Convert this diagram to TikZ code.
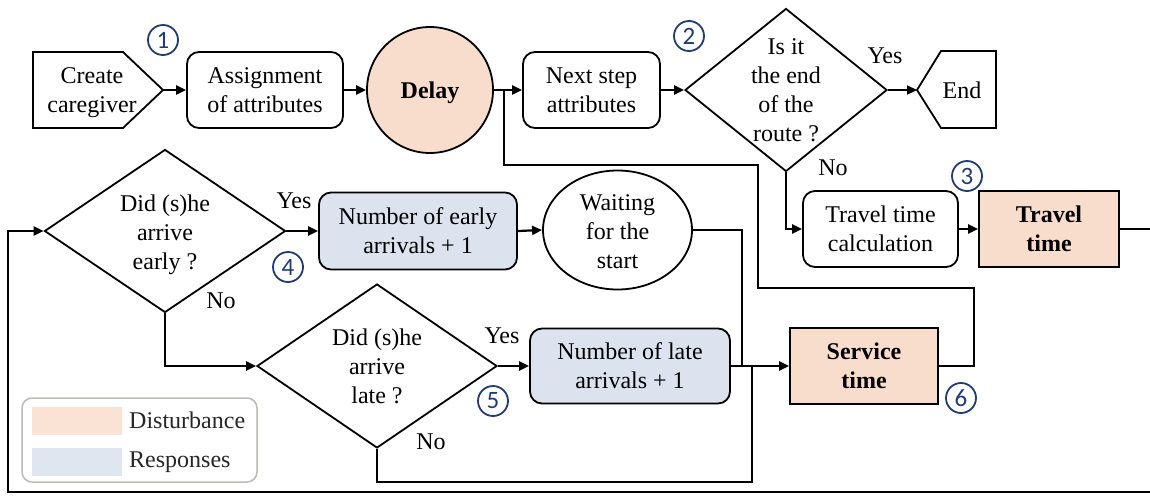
\documentclass[tikz,border=0pt]{standalone}
\usepackage{fontspec}
\setmainfont{Liberation Serif}
\newfontfamily\numfont{Carlito}
\usetikzlibrary{arrows.meta,shapes.geometric}
\definecolor{peach}{HTML}{F9DDCC}
\definecolor{bluegray}{HTML}{DCE3EE}
\definecolor{navy}{HTML}{1F3B78}
\definecolor{legendgray}{HTML}{BDB9B4}
\definecolor{legtext}{HTML}{262626}
\begin{document}
\begin{tikzpicture}[x=1pt,y=-1pt,
  txt/.style={font=\fontsize{24}{29}\selectfont, align=center, inner sep=0pt},
  rbox/.style={draw, line width=1.8pt, rounded corners=12pt, inner sep=0pt, align=center,
    font=\fontsize{24}{29}\selectfont},
  sbox/.style={draw, line width=1.8pt, fill=peach, inner sep=0pt, align=center,
    font=\fontsize{24}{29}\selectfont\bfseries},
  dia/.style={draw, diamond, line width=1.8pt, inner sep=0pt},
  shp/.style={draw, line width=1.8pt, line join=miter},
  conn/.style={line width=2.2pt},
  arr/.style={conn, -{Triangle[length=10pt,width=9pt]}},
  lbl/.style={font=\fontsize{24}{29}\selectfont, inner sep=0pt},
  num/.style={circle, draw=navy, line width=1.8pt, minimum size=30pt, inner sep=0pt,
    text=navy, font=\numfont\fontsize{25}{25}\selectfont}
]
\useasboundingbox (0,0) rectangle (1150,496);

% --- top row
\draw[shp] (33,52) -- (123,52) -- (163,90) -- (123,128) -- (33,128) -- cycle;
\coordinate (createtip) at (163,90);
\node[txt] (create) at (92,93) {Create\\caregiver};

\node[rbox, minimum width=156pt, minimum height=76pt] (assign) at (265,90) {Assignment\\of attributes};
\node[draw, circle, line width=1.8pt, fill=peach, minimum size=126pt, inner sep=0pt] (delay) at (430,90) {};
\node[txt, font=\fontsize{24}{29}\selectfont\bfseries] (delayt) at (430,93) {Delay};
\node[rbox, minimum width=137pt, minimum height=76pt] (next) at (591.5,90) {Next step\\attributes};
\node[dia, minimum width=202pt, minimum height=163pt] (dend) at (786,90) {};
\node[txt] (dendt) at (786,90) {Is it\\the end\\of the\\route ?};

\draw[shp] (917,90) -- (941,51) -- (996,51) -- (996,128) -- (941,128) -- cycle;
\coordinate (endtip) at (917,90);
\node[txt] (endt) at (962,90) {End};

% --- travel
\node[rbox, minimum width=155pt, minimum height=76pt] (calc) at (880.5,229) {Travel time\\calculation};
\node[sbox, minimum width=140pt, minimum height=76pt] (travel) at (1049,229) {Travel\\time};

% --- early
\node[dia, minimum width=241pt, minimum height=163pt] (dearly) at (165,231) {};
\node[txt] (dearlyt) at (165,235) {Did (s)he\\arrive\\early ?};
\node[rbox, fill=bluegray, minimum width=198pt, minimum height=77pt] (early) at (418,231) {Number of early\\arrivals + 1};
\node[draw, ellipse, line width=1.8pt, minimum width=149pt, minimum height=119pt, inner sep=0pt] (wait) at (617.5,230) {};
\node[txt] (waitt) at (617.5,232) {Waiting\\for the\\start};

% --- late
\node[dia, minimum width=240pt, minimum height=164pt] (dlate) at (377,366) {};
\node[txt] (dlatet) at (377,366) {Did (s)he\\arrive\\late ?};
\node[rbox, fill=bluegray, minimum width=200pt, minimum height=75pt] (late) at (630,366) {Number of late\\arrivals + 1};
\node[sbox, minimum width=148pt, minimum height=76pt] (service) at (864,366) {Service\\time};

% --- labels
\node[lbl] (yes1) at (885,56) {Yes};
\node[lbl] (no1) at (833,168) {No};
\node[lbl] (yes2) at (294,201) {Yes};
\node[lbl] (no2) at (221,301) {No};
\node[lbl] (yes3) at (502,336) {Yes};
\node[lbl] (no3) at (431,442) {No};

% --- numbers
\node[num] (n1) at (163,40) {1};
\node[num] (n2) at (689,36) {2};
\node[num] (n3) at (967,176) {3};
\node[num] (n4) at (288,267) {4};
\node[num] (n5) at (493,401) {5};
\node[num] (n6) at (961,398) {6};

% --- coordinates
\coordinate (j3) at (504,90);
\coordinate (r1) at (974,288);
\coordinate (r2) at (758,165);
\coordinate (j1) at (742,366);
\coordinate (j2) at (752,366);
\coordinate (nb) at (377,482);
\coordinate (rt) at (1156,229);
\coordinate (rb) at (1156,492);
\coordinate (lb) at (8,492);

% --- connectors
\draw[arr] (createtip) -- (assign.west);
\draw[arr] (assign.east) -- (delay.west);
\draw[arr] (delay.east) -- (next.west);
\draw[arr] (next.east) -- (dend.west);
\draw[arr] (dend.east) -- (endtip);
\draw[arr] (dend.south) |- (calc.west);
\draw[arr] (calc.east) -- (travel.west);
\draw[arr] (travel.east) -- (rt) -- (rb) -- (lb) |- (dearly.west);
\draw[arr] (dearly.east) -- (early.west);
\draw[arr] (early.east) -- (wait.west);
\draw[conn] (wait.east) -| (j1);
\draw[arr] (dearly.south) |- (dlate.west);
\draw[arr] (dlate.east) -- (late.west);
\draw[arr] (late.east) -- (service.west);
\draw[conn] (dlate.south) -- (nb) -| (j2);
\draw[conn] (service.east) -| (r1) -- (r2 |- r1) -- (r2) -- (j3 |- r2) -- (j3);

% --- legend
\node[draw=legendgray, line width=1.5pt, rounded corners=10pt, minimum width=235pt, minimum height=84pt, inner sep=0pt] (legend) at (139.5,440) {};
\node[fill=peach!85!white, minimum width=90pt, minimum height=28pt, inner sep=0pt] (swd) at (77,421) {};
\node[fill=bluegray!90!white, minimum width=90pt, minimum height=28pt, inner sep=0pt] (swr) at (77,462) {};
\node[lbl, text=legtext, anchor=west] (ld) at (129,420) {Disturbance};
\node[lbl, text=legtext, anchor=west] (lr) at (129,462) {Responses};
\end{tikzpicture}
\end{document}
